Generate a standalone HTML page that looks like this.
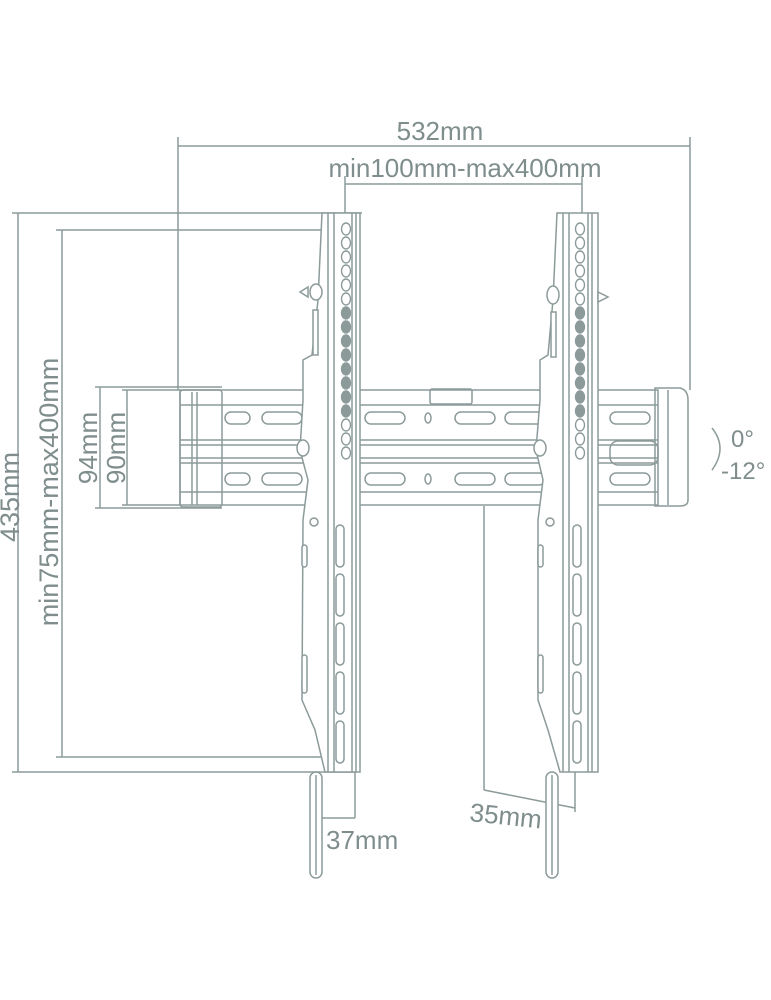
<!DOCTYPE html>
<html><head><meta charset="utf-8"><style>
html,body{margin:0;padding:0;background:#fff;}
svg{display:block}
text{font-family:"Liberation Sans",sans-serif;fill:#7f8d8d;}
</style></head><body>
<svg width="771" height="1000" viewBox="0 0 771 1000" xmlns="http://www.w3.org/2000/svg">
<g fill="none" stroke="#8c9a9a" stroke-width="1.5">
<line x1="178" y1="137" x2="178" y2="390"/>
<line x1="690" y1="137" x2="690" y2="390"/>
<line x1="178" y1="146" x2="690" y2="146"/>
<line x1="345" y1="176" x2="345" y2="230"/>
<line x1="582" y1="176" x2="582" y2="230"/>
<line x1="345" y1="184" x2="582" y2="184"/>
<line x1="18" y1="213" x2="18" y2="772"/>
<line x1="12" y1="213" x2="362" y2="213"/>
<line x1="12" y1="772" x2="355" y2="772"/>
<line x1="62" y1="230" x2="62" y2="757"/>
<line x1="56" y1="230" x2="345" y2="230"/>
<line x1="56" y1="757" x2="345" y2="757"/>
<line x1="100" y1="387" x2="100" y2="508"/>
<line x1="95" y1="387" x2="222" y2="387"/>
<line x1="95" y1="508" x2="222" y2="508"/>
<line x1="127" y1="390" x2="127" y2="505"/>
<line x1="122" y1="390" x2="180" y2="390"/>
<line x1="122" y1="505" x2="180" y2="505"/>
<line x1="355" y1="772" x2="355" y2="818"/>
<line x1="320" y1="818" x2="355" y2="818"/>
<line x1="484" y1="506" x2="484" y2="790"/>
<line x1="484" y1="790" x2="575" y2="808"/>
<line x1="575" y1="772" x2="575" y2="812"/>
<path d="M712 428 Q728 448 712 470"/>

<rect x="180" y="390" width="478" height="115"/>
<line x1="180" y1="405" x2="658" y2="405"/>
<line x1="180" y1="440" x2="658" y2="440"/>
<line x1="180" y1="445" x2="658" y2="445"/>
<line x1="180" y1="458" x2="658" y2="458"/>
<line x1="180" y1="463" x2="658" y2="463"/>
<line x1="180" y1="492" x2="658" y2="492"/>
<rect x="180" y="390" width="42" height="117" rx="3"/>
<line x1="192" y1="392" x2="192" y2="505"/>
<line x1="197" y1="392" x2="197" y2="505"/>
<path d="M655 388 L680 388 Q688 390 688 400 L688 500 Q688 506 680 506 L655 506 Z"/>
<line x1="668" y1="390" x2="668" y2="505"/>
<rect x="430" y="389" width="42" height="15" rx="2"/>
<rect x="610" y="441" width="48" height="24" rx="8"/>
<g>
<rect x="225" y="412" width="25" height="12" rx="6"/><rect x="262" y="412" width="40" height="12" rx="6"/>
<rect x="365" y="412" width="40" height="12" rx="6"/><rect x="455" y="412" width="40" height="12" rx="6"/><rect x="505" y="412" width="40" height="12" rx="6"/>
<rect x="610" y="412" width="40" height="12" rx="6"/>
<rect x="225" y="473" width="25" height="12" rx="6"/><rect x="262" y="473" width="40" height="12" rx="6"/>
<rect x="365" y="473" width="40" height="12" rx="6"/><rect x="455" y="473" width="40" height="12" rx="6"/><rect x="505" y="473" width="40" height="12" rx="6"/>
<rect x="610" y="473" width="40" height="12" rx="6"/>
<ellipse cx="428" cy="418" rx="3" ry="5"/><ellipse cx="428" cy="479" rx="3" ry="5"/>
</g>

<g fill="#fff">
<path d="M322 213 L360 213 L360 772 L325 772 L315 730 L302 700 L303 520 L308 480 L300 450 L303 400 L303 360 L312 355 L318 300 Z"/>
<line x1="328" y1="213" x2="328" y2="772"/>
<line x1="334" y1="213" x2="334" y2="772"/>
<line x1="352" y1="213" x2="352" y2="772"/>
<line x1="356" y1="213" x2="356" y2="772"/>
<rect x="310" y="772" width="12" height="106" rx="6"/>
<line x1="316" y1="775" x2="316" y2="875"/>
<ellipse cx="316" cy="292" rx="6" ry="8"/>
<path d="M300 292 L308 287 L308 297 Z"/>
<rect x="313" y="310" width="5" height="45"/>
<ellipse cx="303" cy="448" rx="6" ry="8"/>
<circle cx="314" cy="522" r="4"/>
<rect x="302" y="545" width="5" height="22" rx="2.5"/>
<rect x="302" y="655" width="5" height="38" rx="2.5"/>
<rect x="336" y="525" width="8" height="42" rx="4"/>
<rect x="336" y="574" width="8" height="42" rx="4"/>
<rect x="336" y="623" width="8" height="42" rx="4"/>
<rect x="336" y="672" width="8" height="42" rx="4"/>
<rect x="336" y="721" width="8" height="42" rx="4"/>
</g>
<g fill="#fff">
<path d="M557 213 L598 213 L598 772 L560 772 L548 730 L538 700 L538 520 L543 480 L536 450 L540 400 L540 360 L548 355 L553 300 Z"/>
<line x1="563" y1="213" x2="563" y2="772"/>
<line x1="569" y1="213" x2="569" y2="772"/>
<line x1="588" y1="213" x2="588" y2="772"/>
<line x1="592" y1="213" x2="592" y2="772"/>
<rect x="546" y="772" width="12" height="106" rx="6"/>
<line x1="552" y1="775" x2="552" y2="875"/>
<ellipse cx="553" cy="295" rx="6" ry="9"/>
<path d="M598 292 L608 297 L598 302 Z"/>
<rect x="551" y="312" width="5" height="45"/>
<ellipse cx="540" cy="448" rx="6" ry="8"/>
<circle cx="550" cy="522" r="4"/>
<rect x="538" y="545" width="5" height="22" rx="2.5"/>
<rect x="538" y="655" width="5" height="38" rx="2.5"/>
<rect x="573" y="525" width="8" height="42" rx="4"/>
<rect x="573" y="574" width="8" height="42" rx="4"/>
<rect x="573" y="623" width="8" height="42" rx="4"/>
<rect x="573" y="672" width="8" height="42" rx="4"/>
<rect x="573" y="721" width="8" height="42" rx="4"/>
</g>
</g>
<g stroke="#8c9a9a" stroke-width="1.4">
<g fill="#fff">
<ellipse cx="346" cy="229" rx="4.5" ry="6"/><ellipse cx="346" cy="243" rx="4.5" ry="6"/><ellipse cx="346" cy="257" rx="4.5" ry="6"/><ellipse cx="346" cy="271" rx="4.5" ry="6"/><ellipse cx="346" cy="285" rx="4.5" ry="6"/><ellipse cx="346" cy="299" rx="4.5" ry="6"/>
<ellipse cx="346" cy="425" rx="4.5" ry="6"/><ellipse cx="346" cy="439" rx="4.5" ry="6"/><ellipse cx="346" cy="453" rx="4.5" ry="6"/>
<ellipse cx="580" cy="229" rx="4.5" ry="6"/><ellipse cx="580" cy="243" rx="4.5" ry="6"/><ellipse cx="580" cy="257" rx="4.5" ry="6"/><ellipse cx="580" cy="271" rx="4.5" ry="6"/><ellipse cx="580" cy="285" rx="4.5" ry="6"/><ellipse cx="580" cy="299" rx="4.5" ry="6"/>
<ellipse cx="580" cy="425" rx="4.5" ry="6"/><ellipse cx="580" cy="439" rx="4.5" ry="6"/><ellipse cx="580" cy="453" rx="4.5" ry="6"/>
</g>
<g fill="#8c9a9a">
<ellipse cx="346" cy="313" rx="4.5" ry="6"/><ellipse cx="346" cy="327" rx="4.5" ry="6"/><ellipse cx="346" cy="341" rx="4.5" ry="6"/><ellipse cx="346" cy="355" rx="4.5" ry="6"/><ellipse cx="346" cy="369" rx="4.5" ry="6"/><ellipse cx="346" cy="383" rx="4.5" ry="6"/><ellipse cx="346" cy="397" rx="4.5" ry="6"/><ellipse cx="346" cy="411" rx="4.5" ry="6"/>
<ellipse cx="580" cy="313" rx="4.5" ry="6"/><ellipse cx="580" cy="327" rx="4.5" ry="6"/><ellipse cx="580" cy="341" rx="4.5" ry="6"/><ellipse cx="580" cy="355" rx="4.5" ry="6"/><ellipse cx="580" cy="369" rx="4.5" ry="6"/><ellipse cx="580" cy="383" rx="4.5" ry="6"/><ellipse cx="580" cy="397" rx="4.5" ry="6"/><ellipse cx="580" cy="411" rx="4.5" ry="6"/>
</g>
</g>
<text x="440" y="140" font-size="26" text-anchor="middle">532mm</text>
<text x="465" y="177" font-size="26" text-anchor="middle">min100mm-max400mm</text>
<text transform="translate(19,497) rotate(-90)" font-size="27" text-anchor="middle">435mm</text>
<text transform="translate(58,492) rotate(-90)" font-size="27" text-anchor="middle">min75mm-max400mm</text>
<text transform="translate(97,448) rotate(-90)" font-size="26" text-anchor="middle">94mm</text>
<text transform="translate(125,448) rotate(-90)" font-size="26" text-anchor="middle">90mm</text>
<text x="326" y="849" font-size="26">37mm</text>
<text transform="translate(469,821) rotate(6)" font-size="26">35mm</text>
<text x="731" y="447" font-size="24">0°</text>
<text x="721" y="479" font-size="24">-12°</text>
</svg>
</body></html>
